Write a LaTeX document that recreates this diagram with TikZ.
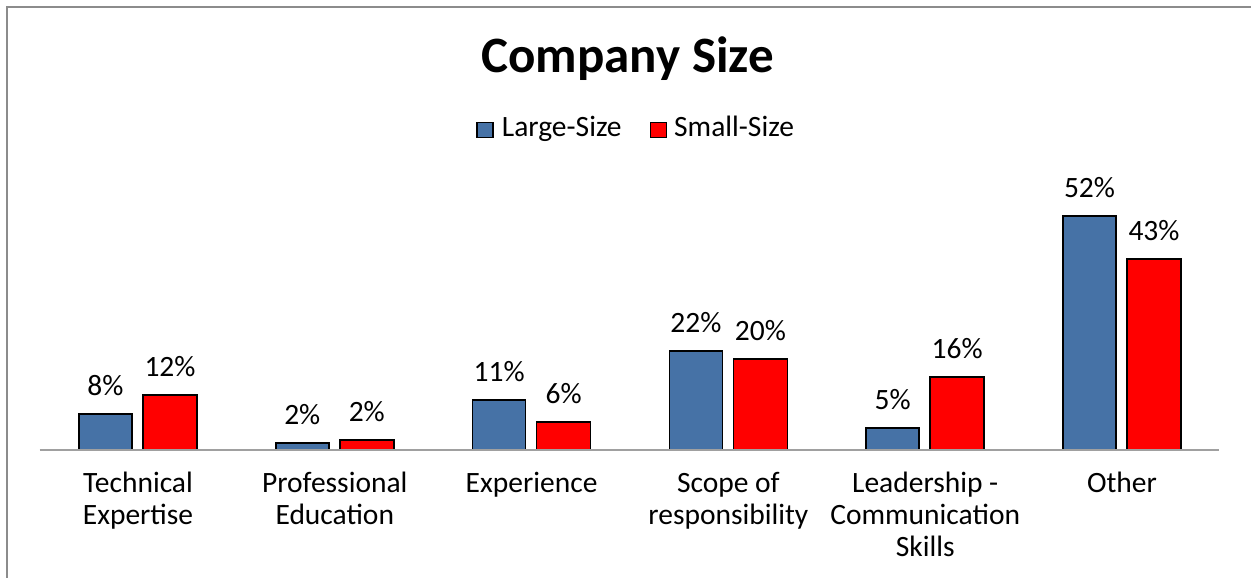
\documentclass[tikz,border=0pt]{standalone}
\usepackage{fontspec}
\setmainfont{Carlito}
\definecolor{largeblue}{RGB}{70,114,166}
\definecolor{smallred}{RGB}{255,0,0}
\definecolor{framegray}{RGB}{140,140,140}
\definecolor{axisgray}{RGB}{160,160,160}

\begin{document}
\begin{tikzpicture}[x=1pt,y=-1pt,
  bar/.style={draw=black, line width=1.5pt},
  val/.style={anchor=base, inner sep=0pt, font=\fontsize{29.5}{32}\selectfont},
  cat/.style={anchor=north, inner sep=0pt, align=center, font=\fontsize{29.5}{32}\selectfont},
  key/.style={bar, minimum width=16pt, minimum height=15pt, inner sep=0pt}]

\useasboundingbox (0,0) rectangle (1251,578);
\draw[framegray, line width=2.5pt] (7,578) -- (7,7) -- (1251,7);

\node(title) at (627.5,72.7) [anchor=base, inner sep=0pt, font=\fontsize{51}{58}\selectfont\bfseries] {Company Size};

% legend
\node(lkey) at (485,130) [key, fill=largeblue] {};
\node(ltext) at (501.7,136) [anchor=base west, inner sep=0pt, font=\fontsize{29.5}{32}\selectfont] {Large-Size};
\node(skey) at (658.3,130) [key, fill=smallred] {};
\node(stext) at (674,136) [anchor=base west, inner sep=0pt, font=\fontsize{29.5}{32}\selectfont] {Small-Size};

% bars: group centre / large height / small height / labels
\foreach \c/\hl/\hs/\vl/\vs [count=\i] in {138/36/55/8/12, 334.8/7/10/2/2, 531.6/50/28/11/6,
    728.4/99/91/22/20, 925.2/22/73/5/16, 1122/234/191/52/43} {
  \draw[bar, fill=largeblue] (\c-59,450) rectangle (\c-6,450-\hl);
  \draw[bar, fill=smallred] (\c+5,450) rectangle (\c+59,450-\hs);
  \node(vl\i) at (\c-32.5,450-\hl-18.5) [val] {\vl\%};
  \node(vs\i) at (\c+32,450-\hs-18.5) [val] {\vs\%};
}

\node(axisl) at (39,450) [inner sep=0pt] {};
\node(axisr) at (1220,450) [inner sep=0pt] {};
\draw[axisgray, line width=2pt] (axisl) -- (axisr);

% categories
\node(cat1) at (138,470.3) [cat] {\strut Technical\\Expertise};
\node(cat2) at (334.8,470.3) [cat] {\strut Professional\\Education};
\node(cat3) at (531.6,470.3) [cat] {\strut Experience};
\node(cat4) at (728.4,470.3) [cat] {\strut Scope of\\responsibility};
\node(cat5) at (925.2,470.3) [cat] {\strut Leadership -\\Communication\\Skills};
\node(cat6) at (1122,470.3) [cat] {\strut Other};

\end{tikzpicture}
\end{document}
